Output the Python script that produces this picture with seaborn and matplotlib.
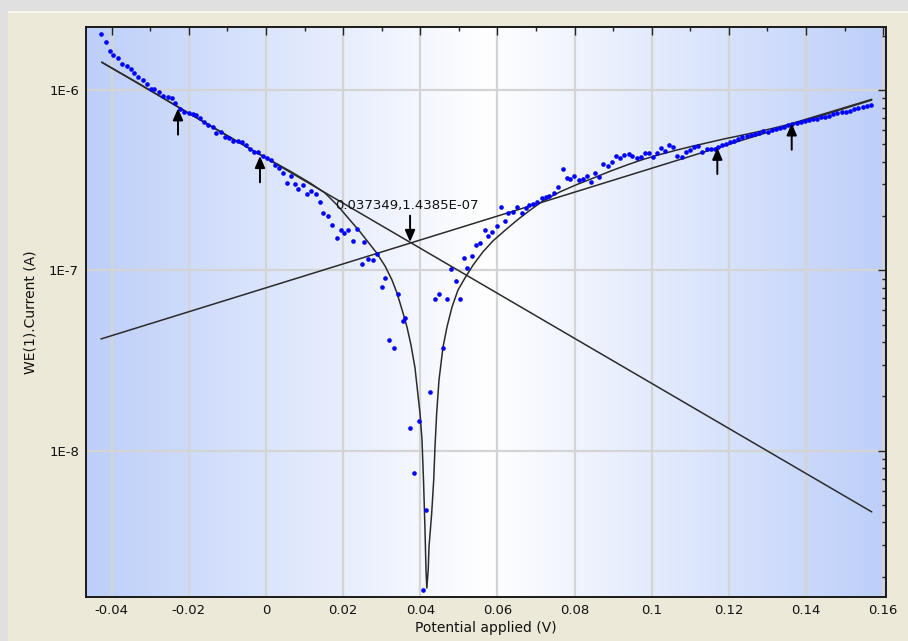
import numpy as np
import matplotlib
matplotlib.use("Agg")
import matplotlib.pyplot as plt
from matplotlib.patches import Rectangle
from matplotlib.ticker import FixedLocator, FixedFormatter, LogLocator, MultipleLocator, NullFormatter
import seaborn as sns

# measured points (V, A)
potential = [
    -0.04277, -0.04148, -0.04044, -0.03959, -0.03845, -0.03733, -0.03611, -0.03508, -0.03414, -0.03310,
    -0.03196, -0.03085, -0.02981, -0.02896, -0.02782, -0.02662, -0.02548, -0.02437, -0.02351, -0.02222,
    -0.02118, -0.02004, -0.01900, -0.01815, -0.01711, -0.01600, -0.01496, -0.01382, -0.01296, -0.01167,
    -0.01063, -0.00951, -0.00848, -0.00734, -0.00630, -0.00518, -0.00415, -0.00303, -0.00200, -0.00086,
    0.00026, 0.00130, 0.00241, 0.00329, 0.00441, 0.00537, 0.00648, 0.00752, 0.00837, 0.00951,
    0.01055, 0.01167, 0.01288, 0.01400, 0.01470, 0.01600, 0.01711, 0.01833, 0.01944, 0.02030,
    0.02134, 0.02248, 0.02367, 0.02481, 0.02541, 0.02652, 0.02766, 0.02885, 0.02999, 0.03085,
    0.03196, 0.03318, 0.03430, 0.03544, 0.03611, 0.03733, 0.03837, 0.03959, 0.04062, 0.04148,
    0.04259, 0.04381, 0.04493, 0.04596, 0.04684, 0.04796, 0.04918, 0.05037, 0.05141, 0.05219,
    0.05333, 0.05444, 0.05548, 0.05677, 0.05763, 0.05867, 0.05981, 0.06084, 0.06196, 0.06281,
    0.06395, 0.06515, 0.06629, 0.06732, 0.06826, 0.06930, 0.07033, 0.07147, 0.07251, 0.07344,
    0.07466, 0.07578, 0.07692, 0.07795, 0.07881, 0.07992, 0.08114, 0.08226, 0.08329, 0.08417,
    0.08529, 0.08640, 0.08744, 0.08858, 0.08962, 0.09066, 0.09177, 0.09281, 0.09403, 0.09496,
    0.09610, 0.09714, 0.09825, 0.09937, 0.10025, 0.10129, 0.10232, 0.10344, 0.10455, 0.10559,
    0.10663, 0.10777, 0.10888, 0.10992, 0.11103, 0.11207, 0.11311, 0.11425, 0.11528, 0.11640,
    0.11725, 0.11829, 0.11925, 0.12029, 0.12132, 0.12244, 0.12348, 0.12462, 0.12565, 0.12677,
    0.12781, 0.12892, 0.13006, 0.13110, 0.13221, 0.13325, 0.13429, 0.13540, 0.13644, 0.13758,
    0.13862, 0.13973, 0.14077, 0.14188, 0.14292, 0.14388, 0.14492, 0.14603, 0.14707, 0.14810,
    0.14924, 0.15028, 0.15140, 0.15243, 0.15355, 0.15469, 0.15572, 0.15684,
]
current = [
    2.05e-6, 1.86e-6, 1.64e-6, 1.57e-6, 1.50e-6, 1.40e-6, 1.36e-6, 1.31e-6, 1.25e-6, 1.19e-6,
    1.14e-6, 1.08e-6, 1.02e-6, 1.02e-6, 9.74e-7, 9.29e-7, 9.13e-7, 9.02e-7, 8.52e-7, 7.87e-7,
    7.54e-7, 7.45e-7, 7.35e-7, 7.29e-7, 6.98e-7, 6.69e-7, 6.41e-7, 6.23e-7, 5.77e-7, 5.89e-7,
    5.48e-7, 5.45e-7, 5.25e-7, 5.23e-7, 5.18e-7, 4.97e-7, 4.72e-7, 4.52e-7, 4.52e-7, 4.33e-7,
    4.19e-7, 4.10e-7, 3.85e-7, 3.69e-7, 3.46e-7, 3.07e-7, 3.34e-7, 3.02e-7, 2.83e-7, 2.98e-7,
    2.66e-7, 2.77e-7, 2.66e-7, 2.39e-7, 2.08e-7, 2.01e-7, 1.79e-7, 1.51e-7, 1.68e-7, 1.62e-7,
    1.68e-7, 1.46e-7, 1.70e-7, 1.09e-7, 1.44e-7, 1.16e-7, 1.14e-7, 1.23e-7, 8.07e-8, 9.05e-8,
    4.12e-8, 3.70e-8, 7.41e-8, 5.27e-8, 5.43e-8, 1.33e-8, 7.56e-9, 1.47e-8, 1.69e-9, 4.70e-9,
    2.12e-8, 6.95e-8, 7.41e-8, 3.70e-8, 6.95e-8, 1.02e-7, 8.75e-8, 6.95e-8, 1.18e-7, 1.03e-7,
    1.20e-7, 1.38e-7, 1.42e-7, 1.68e-7, 1.56e-7, 1.64e-7, 1.77e-7, 2.24e-7, 1.87e-7, 2.08e-7,
    2.12e-7, 2.24e-7, 2.09e-7, 2.21e-7, 2.30e-7, 2.34e-7, 2.41e-7, 2.51e-7, 2.57e-7, 2.59e-7,
    2.68e-7, 2.89e-7, 3.64e-7, 3.27e-7, 3.22e-7, 3.36e-7, 3.18e-7, 3.22e-7, 3.33e-7, 3.11e-7,
    3.46e-7, 3.29e-7, 3.88e-7, 3.81e-7, 4.01e-7, 4.32e-7, 4.19e-7, 4.35e-7, 4.43e-7, 4.33e-7,
    4.19e-7, 4.28e-7, 4.50e-7, 4.50e-7, 4.24e-7, 4.47e-7, 4.76e-7, 4.62e-7, 4.97e-7, 4.83e-7,
    4.33e-7, 4.24e-7, 4.56e-7, 4.66e-7, 4.83e-7, 4.90e-7, 4.56e-7, 4.70e-7, 4.72e-7, 4.70e-7,
    4.86e-7, 4.95e-7, 5.03e-7, 5.16e-7, 5.25e-7, 5.36e-7, 5.48e-7, 5.57e-7, 5.64e-7, 5.72e-7,
    5.81e-7, 5.94e-7, 5.84e-7, 6.02e-7, 6.12e-7, 6.19e-7, 6.27e-7, 6.39e-7, 6.47e-7, 6.55e-7,
    6.66e-7, 6.77e-7, 6.84e-7, 6.90e-7, 6.92e-7, 7.08e-7, 7.13e-7, 7.22e-7, 7.35e-7, 7.45e-7,
    7.54e-7, 7.60e-7, 7.70e-7, 7.84e-7, 7.94e-7, 8.04e-7, 8.17e-7, 8.28e-7,
]

# fitted curve
fit_potential = [
    -0.04259, -0.03266, -0.02229, -0.01193, -0.00156, 0.00622, 0.01141, 0.01530, 0.01841, 0.02126,
    0.02437, 0.02644, 0.02870, 0.03085, 0.03266, 0.03396, 0.03552, 0.03655, 0.03759, 0.03863,
    0.03940, 0.03992, 0.04044, 0.04083, 0.04122, 0.04148, 0.04169,
    0.04205, 0.04226, 0.04296, 0.04348, 0.04381, 0.04425, 0.04485, 0.04589, 0.04692, 0.04822,
    0.04977, 0.05159, 0.05366, 0.05626, 0.05885, 0.06196, 0.06507, 0.06844, 0.07181, 0.07622,
    0.08062, 0.08477, 0.08918, 0.09359, 0.09773, 0.10214, 0.10655, 0.11070, 0.11511, 0.11847,
    0.12288, 0.12729, 0.13143, 0.13584, 0.14103, 0.14621, 0.15140, 0.15702,
]
fit_current = [
    1.43e-6, 1.08e-6, 7.94e-7, 5.90e-7, 4.40e-7, 3.56e-7, 3.06e-7, 2.69e-7, 2.31e-7, 1.96e-7,
    1.64e-7, 1.44e-7, 1.25e-7, 1.06e-7, 8.86e-8, 7.50e-8, 5.81e-8, 4.86e-8, 3.86e-8, 2.88e-8,
    2.04e-8, 1.62e-8, 1.15e-8, 6.89e-9, 3.64e-9, 2.18e-9, 1.73e-9,
    2.18e-9, 2.93e-9, 4.52e-9, 6.89e-9, 1.05e-8, 1.62e-8, 2.47e-8, 3.76e-8, 4.86e-8, 6.27e-8,
    7.79e-8, 9.09e-8, 1.07e-7, 1.27e-7, 1.46e-7, 1.67e-7, 1.90e-7, 2.16e-7, 2.43e-7, 2.73e-7,
    3.00e-7, 3.25e-7, 3.55e-7, 3.85e-7, 4.13e-7, 4.40e-7, 4.66e-7, 4.90e-7, 5.15e-7, 5.35e-7,
    5.60e-7, 5.87e-7, 6.15e-7, 6.49e-7, 7.01e-7, 7.57e-7, 8.18e-7, 8.90e-7,
]

# tafel lines
cathodic_potential = [-0.04259, 0.15703]
cathodic_current = [1.43e-6, 4.58e-9]
anodic_potential = [-0.04277, 0.15703]
anodic_current = [4.17e-8, 8.82e-7]

corr_potential = 0.037349
corr_current = 1.4385e-07
corr_label = "0.037349,1.4385E-07"

# fit range markers
arrow_potential = [-0.02281, -0.00156, 0.11700, 0.13628]
arrow_current = [7.94e-7, 4.32e-7, 4.80e-7, 6.55e-7]

x_ticks = [-0.04, -0.02, 0, 0.02, 0.04, 0.06, 0.08, 0.1, 0.12, 0.14, 0.16]
x_tick_labels = ["-0.04", "-0.02", "0", "0.02", "0.04", "0.06", "0.08", "0.1", "0.12", "0.14", "0.16"]
y_ticks = [1e-8, 1e-7, 1e-6]
y_tick_labels = ["1E-8", "1E-7", "1E-6"]

sns.set_style("white")
plt.rcParams["font.family"] = ["DejaVu Sans"]

fig = plt.figure(figsize=(9.08, 6.41), dpi=100, facecolor="#e0e0e0")
fig.patches.append(Rectangle((8 / 908, 0), 1, 630 / 641, transform=fig.transFigure,
                             facecolor="#ece9d8", edgecolor="none", zorder=-10))
fig.patches.append(Rectangle((8 / 908, 628 / 641), 1, 2 / 641, transform=fig.transFigure,
                             facecolor="#f6f5ee", edgecolor="none", zorder=-9))

pos = [0.0947, 0.0691, 0.8811, 0.8892]

# horizontal blue-white-blue background
bg = fig.add_axes(pos, zorder=0)
t = np.linspace(0, 1, 600)
d = np.abs(t - 0.5) * 2
edge = np.array([0.74, 0.81, 0.975])
rgb = 1 - d[:, None] * (1 - edge)
bg.imshow(rgb[None, :, :], aspect="auto", extent=(0, 1, 0, 1), interpolation="bilinear")
bg.axis("off")

ax = fig.add_axes(pos, zorder=1)
ax.set_facecolor("none")
ax.set_yscale("log")

sns.lineplot(x=cathodic_potential, y=cathodic_current, color="#2b2b2b", lw=1.1,
             estimator=None, sort=False, ax=ax)
sns.lineplot(x=anodic_potential, y=anodic_current, color="#2b2b2b", lw=1.1,
             estimator=None, sort=False, ax=ax)
sns.lineplot(x=fit_potential, y=fit_current, color="#2b2b2b", lw=1.1,
             estimator=None, sort=False, ax=ax)
sns.scatterplot(x=potential, y=current, color="#0000ff", s=11, linewidth=0, ax=ax, zorder=3)

for xa, ya in zip(arrow_potential, arrow_current):
    ax.annotate("", xy=(xa, ya), xytext=(0, -19), textcoords="offset points",
                arrowprops=dict(arrowstyle="-|>,head_length=0.7,head_width=0.3", color="black",
                                lw=1.4, shrinkA=0, shrinkB=0, mutation_scale=10), zorder=4)

ax.annotate("", xy=(corr_potential, corr_current), xytext=(0, 19), textcoords="offset points",
            arrowprops=dict(arrowstyle="-|>,head_length=0.7,head_width=0.3", color="black",
                            lw=1.4, shrinkA=0, shrinkB=0, mutation_scale=10), zorder=4)
ax.annotate(corr_label, xy=(corr_potential, corr_current), xytext=(-54, 26),
            textcoords="offset points", ha="left", va="center", fontsize=9.5, color="#111111")

ax.set_xlim(-0.04666, 0.16073)
ax.set_ylim(1.55e-9, 2.25e-6)

ax.xaxis.set_major_locator(FixedLocator(x_ticks))
ax.xaxis.set_major_formatter(FixedFormatter(x_tick_labels))
ax.xaxis.set_minor_locator(MultipleLocator(0.01))
ax.yaxis.set_major_locator(FixedLocator(y_ticks))
ax.yaxis.set_major_formatter(FixedFormatter(y_tick_labels))
ax.yaxis.set_minor_locator(LogLocator(base=10, subs=np.arange(2, 10)))
ax.yaxis.set_minor_formatter(NullFormatter())

ax.tick_params(which="both", direction="in", top=True, right=True, color="#222222")
ax.tick_params(which="major", length=6, width=1, labelsize=9.5, pad=5, labelcolor="#111111")
ax.tick_params(which="minor", length=2.8, width=1)

ax.grid(which="major", color="#d4d4d4", lw=1.6)
ax.set_axisbelow(True)
for s in ax.spines.values():
    s.set_color("#1a1a1a")
    s.set_linewidth(1.4)

ax.set_xlabel("Potential applied (V)", fontsize=10, labelpad=3, color="#111111")
ax.set_ylabel("WE(1).Current (A)", fontsize=10, labelpad=8, color="#111111")

fig.savefig("out.png", dpi=100, facecolor=fig.get_facecolor())
